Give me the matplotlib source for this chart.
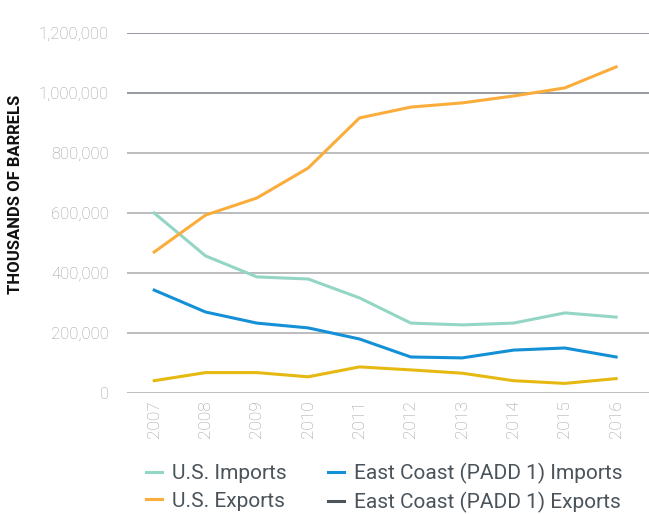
import matplotlib
matplotlib.use("Agg")
import matplotlib.pyplot as plt
from matplotlib.lines import Line2D
from matplotlib.ticker import FuncFormatter

years = [2007, 2008, 2009, 2010, 2011, 2012, 2013, 2014, 2015, 2016]
us_imports = [600000, 457000, 387000, 380000, 317000, 233000, 227000, 233000, 267000, 253000]
us_exports = [470000, 593000, 650000, 750000, 917000, 953000, 967000, 990000, 1017000, 1087000]
ec_imports = [343000, 270000, 233000, 217000, 180000, 120000, 117000, 143000, 150000, 120000]
ec_exports = [41000, 68000, 68000, 54000, 87000, 77000, 66000, 41000, 32000, 48000]
yticks = [0, 200000, 400000, 600000, 800000, 1000000, 1200000]

fig = plt.figure(figsize=(6.49, 5.14), dpi=100)
ax = fig.add_axes([127 / 649, 1 - 393 / 514, 1 - 127 / 649, 360 / 514])

for v in yticks:
    c = '#8d9299' if v >= 1000000 else '#b4b6b9'
    ax.axhline(v, color=c, lw=1.3, zorder=1)

ax.plot(years, us_imports, color='#93d6c5', lw=2.2, zorder=3)
ax.plot(years, us_exports, color='#fbad3c', lw=2.2, zorder=3)
ax.plot(years, ec_imports, color='#1490d6', lw=2.2, zorder=3)
ax.plot(years, ec_exports, color='#e6b912', lw=2.2, zorder=3)

ax.set_xlim(2006.47, 2016.64)
ax.set_ylim(0, 1200000)
ax.set_xticks(years)
ax.set_yticks(yticks)
ax.yaxis.set_major_formatter(FuncFormatter(lambda v, p: f"{int(v):,}"))
ax.tick_params(length=0, labelcolor='#9a9c9f')
ax.tick_params(axis='y', pad=13)
ax.tick_params(axis='x', pad=5, labelrotation=90)
for lab in ax.get_yticklabels():
    lab.set_family('Roboto')
    lab.set_fontweight('light')
    lab.set_fontsize(12)
for lab in ax.get_xticklabels():
    lab.set_family('Roboto')
    lab.set_fontweight('light')
    lab.set_fontsize(12.5)
for s in ax.spines.values():
    s.set_visible(False)

fig.text(16 / 649, 1 - 194 / 514, 'THOUSANDS OF BARRELS', rotation=90,
         ha='center', va='center', fontsize=12, fontweight='bold',
         color='#111111', family='Roboto')

handles = [
    Line2D([], [], color='#93d6c5', lw=2.2),
    Line2D([], [], color='#fbad3c', lw=2.2),
    Line2D([], [], color='#1490d6', lw=2.2),
    Line2D([], [], color='#4b535b', lw=2.2),
]
labels = ['U.S. Imports', 'U.S. Exports',
          'East Coast (PADD 1) Imports', 'East Coast (PADD 1) Exports']
leg = fig.legend(handles, labels, ncol=2, loc='center left',
                 bbox_to_anchor=(146 / 649, 1 - 488 / 514), frameon=False,
                 prop={'family': 'Roboto', 'size': 15},
                 handlelength=0.75, handletextpad=0.5,
                 columnspacing=2.0, labelspacing=0.42, borderaxespad=0,
                 borderpad=0)
for t in leg.get_texts():
    t.set_color('#4b535b')

fig.savefig('out.png', dpi=100)
